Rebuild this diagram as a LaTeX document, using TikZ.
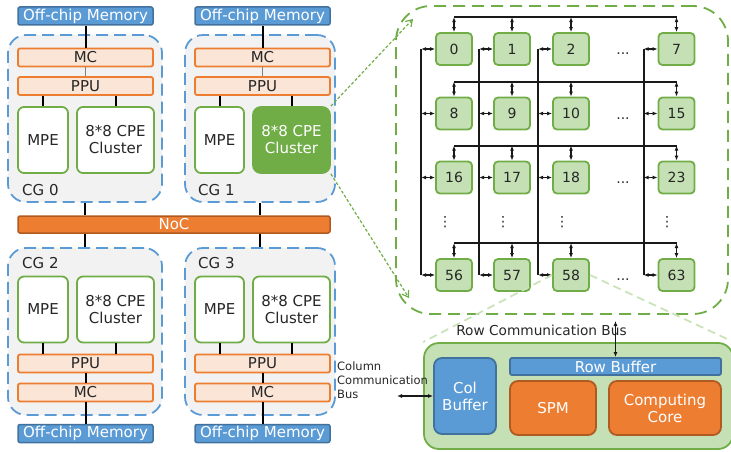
\documentclass[tikz,border=0pt]{standalone}
\usepackage{fontspec}
\setmainfont{DejaVu Sans}
\usetikzlibrary{arrows.meta}

\definecolor{txtgray}{HTML}{262626}
\definecolor{memblue}{HTML}{5B9BD5}
\definecolor{memline}{HTML}{41719C}
\definecolor{ctrlfill}{HTML}{FBE5D6}
\definecolor{ctrlline}{HTML}{ED7D31}
\definecolor{cggray}{HTML}{F2F2F2}
\definecolor{cgblue}{HTML}{5B9BD5}
\definecolor{leafgreen}{HTML}{70AD47}
\definecolor{pegreen}{HTML}{C5E0B4}
\definecolor{paleline}{HTML}{CBE3BB}
\definecolor{hotorange}{HTML}{ED7D31}
\definecolor{hotline}{HTML}{AE5A21}

\tikzset{
  mem/.style={draw=memline, fill=memblue, text=white, line width=1.5pt,
    rounded corners=2pt, minimum width=135pt, minimum height=18pt, inner sep=0pt},
  ctrl/.style={draw=ctrlline, fill=ctrlfill, line width=1.8pt,
    rounded corners=2pt, minimum width=135pt, minimum height=18pt, inner sep=0pt},
  core/.style={draw=leafgreen, fill=white, line width=1.8pt, rounded corners=6pt,
    minimum height=66pt, inner sep=0pt, align=center},
  hotcore/.style={core, fill=leafgreen, text=white, rounded corners=8pt},
  cgbox/.style={draw=cgblue, fill=cggray, line width=1.8pt, dash pattern=on 12pt off 6pt,
    rounded corners=18pt, minimum width=#1, minimum height=167pt, inner sep=0pt},
  noc/.style={draw=hotline, fill=hotorange, text=white, line width=1.5pt,
    rounded corners=2pt, minimum width=312pt, minimum height=17pt, inner sep=0pt},
  gridbox/.style={draw=leafgreen, line width=1.8pt, dash pattern=on 12pt off 7pt,
    rounded corners=35pt, minimum width=332pt, minimum height=308pt, inner sep=0pt},
  pe/.style={draw=leafgreen, fill=pegreen, line width=1.8pt, rounded corners=4pt,
    minimum width=36pt, minimum height=32pt, inner sep=0pt,
    font=\fontsize{14}{16}\selectfont},
  pebox/.style={draw=leafgreen, fill=pegreen, line width=1.8pt, rounded corners=15pt,
    minimum width=309pt, minimum height=106pt, inner sep=0pt},
  buf/.style={draw=memline, fill=memblue, text=white, line width=1.8pt,
    rounded corners=#1, inner sep=0pt, align=center},
  unit/.style={draw=hotline, fill=hotorange, text=white, line width=1.8pt,
    rounded corners=8pt, minimum width=#1, minimum height=54pt, inner sep=0pt, align=center},
  wire/.style={draw=black, line width=2pt},
  thinwire/.style={draw=gray, line width=1pt},
  bus/.style={draw=black!90, line width=2pt},
  link/.style={draw=black!90, line width=1.3pt, {Latex[length=5pt,width=4pt]}-{Latex[length=5pt,width=4pt]}},
  zoomarrow/.style={draw=leafgreen, line width=1.2pt, dash pattern=on 3pt off 2pt,
    -{Straight Barb[length=6pt,width=8pt]}},
  zoomline/.style={draw=paleline, line width=1.8pt, dash pattern=on 8pt off 5pt},
  dots/.style={inner sep=0pt, font=\fontsize{14}{16}\selectfont},
}

\begin{document}
\begin{tikzpicture}[x=1pt, y=-1pt, font=\fontsize{15}{17}\selectfont, text=txtgray]
\useasboundingbox (0,0) rectangle (731,452);

% Core group CG 0
\node[cgbox=154pt] (cg0) at (85,118.5) {};
\node[anchor=west, inner sep=0pt] (cg0name) at (22,190) {CG 0};
\node[mem] (mem0) at (85.5,16) {Off-chip Memory};
\node[ctrl] (mc0) at (85.5,57.5) {MC};
\node[ctrl] (ppu0) at (85.5,86) {PPU};
\node[core, minimum width=50pt] (mpe0) at (43,140) {MPE};
\node[core, minimum width=77pt] (cpe0) at (115.5,140) {8*8 CPE\\Cluster};
\draw[wire] (mem0) -- (mc0);
\draw[thinwire] (mc0) -- (ppu0);
\draw[wire] (mpe0.north) -- (mpe0.north |- ppu0.south);
\draw[wire] (cpe0.north) -- (cpe0.north |- ppu0.south);

% Core group CG 1, its CPE cluster is the one zoomed in
\node[cgbox=150pt] (cg1) at (260,118.5) {};
\node[anchor=west, inner sep=0pt] (cg1name) at (198,190) {CG 1};
\node[mem] (mem1) at (262.5,16) {Off-chip Memory};
\node[ctrl] (mc1) at (262.5,57.5) {MC};
\node[ctrl] (ppu1) at (262.5,86) {PPU};
\node[core, minimum width=49pt] (mpe1) at (219.5,140) {MPE};
\node[hotcore, minimum width=77pt] (cpe1) at (291.5,140) {8*8 CPE\\Cluster};
\draw[wire] (mem1) -- (mc1);
\draw[thinwire] (mc1) -- (ppu1);
\draw[wire] (mpe1.north) -- (mpe1.north |- ppu1.south);
\draw[wire] (cpe1.north) -- (cpe1.north |- ppu1.south);

% Network on chip
\node[noc] (noc) at (174,224.5) {NoC};

% Core group CG 2
\node[cgbox=154pt] (cg2) at (85,331.5) {};
\node[anchor=west, inner sep=0pt] (cg2name) at (22,263) {CG 2};
\node[core, minimum width=50pt] (mpe2) at (43,309.5) {MPE};
\node[core, minimum width=77pt] (cpe2) at (115.5,309.5) {8*8 CPE\\Cluster};
\node[ctrl] (ppu2) at (85.5,363.5) {PPU};
\node[ctrl] (mc2) at (85.5,392.5) {MC};
\node[mem] (mem2) at (85.5,433.5) {Off-chip Memory};
\draw[wire] (mpe2.south) -- (mpe2.south |- ppu2.north);
\draw[wire] (cpe2.south) -- (cpe2.south |- ppu2.north);
\draw[wire] (ppu2) -- (mc2);
\draw[wire] (mc2) -- (mem2);

% Core group CG 3
\node[cgbox=150pt] (cg3) at (260,331.5) {};
\node[anchor=west, inner sep=0pt] (cg3name) at (198,263) {CG 3};
\node[core, minimum width=49pt] (mpe3) at (219.5,309.5) {MPE};
\node[core, minimum width=77pt] (cpe3) at (291.5,309.5) {8*8 CPE\\Cluster};
\node[ctrl] (ppu3) at (262.5,363.5) {PPU};
\node[ctrl] (mc3) at (262.5,392.5) {MC};
\node[mem] (mem3) at (262.5,433.5) {Off-chip Memory};
\draw[wire] (mpe3.south) -- (mpe3.south |- ppu3.north);
\draw[wire] (cpe3.south) -- (cpe3.south |- ppu3.north);
\draw[wire] (ppu3) -- (mc3);
\draw[wire] (mc3) -- (mem3);

% Groups hooked onto the NoC
\draw[wire] (cg0.south) -- (cg0.south |- noc.north);
\draw[wire] (cg1.south) -- (cg1.south |- noc.north);
\draw[wire] (cg2.north) -- (cg2.north |- noc.south);
\draw[wire] (cg3.north) -- (cg3.north |- noc.south);

% CPE mesh
\node[gridbox] (grid) at (562,160) {};

\node[pe] (pe0) at (454,49) {0};
\node[pe] (pe1) at (512,49) {1};
\node[pe] (pe2) at (571,49) {2};
\node[pe] (pe7) at (676.5,49) {7};

\node[pe] (pe8) at (454,113.5) {8};
\node[pe] (pe9) at (512,113.5) {9};
\node[pe] (pe10) at (571,113.5) {10};
\node[pe] (pe15) at (676.5,113.5) {15};

\node[pe] (pe16) at (454,177.5) {16};
\node[pe] (pe17) at (512,177.5) {17};
\node[pe] (pe18) at (571,177.5) {18};
\node[pe] (pe23) at (676.5,177.5) {23};

\node[pe] (pe56) at (454,275) {56};
\node[pe] (pe57) at (512,275) {57};
\node[pe] (pe58) at (571,275) {58};
\node[pe] (pe63) at (676.5,275) {63};

% elided columns and rows
\node[dots] (hdots0) at (623,54) {...};
\node[dots] (hdots1) at (623,118.5) {...};
\node[dots] (hdots2) at (623,182.5) {...};
\node[dots] (hdots7) at (623,280) {...};
\node[dots] (vdots0) at (445,222) {⋮};
\node[dots] (vdots1) at (503,222) {⋮};
\node[dots] (vdots2) at (562,222) {⋮};
\node[dots] (vdots7) at (667,222) {⋮};

% Row buses
\draw[bus] ([yshift=15pt]pe0.north) -- ([yshift=15pt]pe7.north);
\draw[link] ([yshift=15pt]pe0.north) -- (pe0.north);
\draw[link] ([yshift=15pt]pe1.north) -- (pe1.north);
\draw[link] ([yshift=15pt]pe2.north) -- (pe2.north);
\draw[link] ([yshift=15pt]pe7.north) -- (pe7.north);

\draw[bus] ([yshift=15pt]pe8.north) -- ([yshift=15pt]pe15.north);
\draw[link] ([yshift=15pt]pe8.north) -- (pe8.north);
\draw[link] ([yshift=15pt]pe9.north) -- (pe9.north);
\draw[link] ([yshift=15pt]pe10.north) -- (pe10.north);
\draw[link] ([yshift=15pt]pe15.north) -- (pe15.north);

\draw[bus] ([yshift=15pt]pe16.north) -- ([yshift=15pt]pe23.north);
\draw[link] ([yshift=15pt]pe16.north) -- (pe16.north);
\draw[link] ([yshift=15pt]pe17.north) -- (pe17.north);
\draw[link] ([yshift=15pt]pe18.north) -- (pe18.north);
\draw[link] ([yshift=15pt]pe23.north) -- (pe23.north);

\draw[bus] ([yshift=15pt]pe56.north) -- ([yshift=15pt]pe63.north);
\draw[link] ([yshift=15pt]pe56.north) -- (pe56.north);
\draw[link] ([yshift=15pt]pe57.north) -- (pe57.north);
\draw[link] ([yshift=15pt]pe58.north) -- (pe58.north);
\draw[link] ([yshift=15pt]pe63.north) -- (pe63.north);

% Column buses
\draw[bus] ([xshift=-14pt]pe0.west) -- ([xshift=-14pt]pe56.west);
\draw[link] ([xshift=-14pt]pe0.west) -- (pe0.west);
\draw[link] ([xshift=-14pt]pe8.west) -- (pe8.west);
\draw[link] ([xshift=-14pt]pe16.west) -- (pe16.west);
\draw[link] ([xshift=-14pt]pe56.west) -- (pe56.west);

\draw[bus] ([xshift=-14pt]pe1.west) -- ([xshift=-14pt]pe57.west);
\draw[link] ([xshift=-14pt]pe1.west) -- (pe1.west);
\draw[link] ([xshift=-14pt]pe9.west) -- (pe9.west);
\draw[link] ([xshift=-14pt]pe17.west) -- (pe17.west);
\draw[link] ([xshift=-14pt]pe57.west) -- (pe57.west);

\draw[bus] ([xshift=-14pt]pe2.west) -- ([xshift=-14pt]pe58.west);
\draw[link] ([xshift=-14pt]pe2.west) -- (pe2.west);
\draw[link] ([xshift=-14pt]pe10.west) -- (pe10.west);
\draw[link] ([xshift=-14pt]pe18.west) -- (pe18.west);
\draw[link] ([xshift=-14pt]pe58.west) -- (pe58.west);

\draw[bus] ([xshift=-14pt]pe7.west) -- ([xshift=-14pt]pe63.west);
\draw[link] ([xshift=-14pt]pe7.west) -- (pe7.west);
\draw[link] ([xshift=-14pt]pe15.west) -- (pe15.west);
\draw[link] ([xshift=-14pt]pe23.west) -- (pe23.west);
\draw[link] ([xshift=-14pt]pe63.west) -- (pe63.west);

% Zoom from the CPE cluster to the mesh
\coordinate (zoomin) at (413,19);
\coordinate (zoomout) at (409,298);
\draw[zoomarrow] (cpe1.north east) -- (zoomin);
\draw[zoomarrow] (cpe1.south east) -- (zoomout);

% One CPE in detail
\node[pebox] (pebox) at (578.5,396) {};
\node[buf=8pt, minimum width=62pt, minimum height=76pt] (colbuf) at (465,396) {Col\\Buffer};
\node[buf=2pt, minimum width=211pt, minimum height=17pt] (rowbuf) at (615.5,366.5) {Row Buffer};
\node[unit=86pt] (spm) at (553,408) {SPM};
\node[unit=112pt] (core) at (665,408) {Computing\\Core};

\draw[zoomline] (pe58.west) -- (pebox.north west);
\draw[zoomline] (pe58.east) -- (pebox.north east);

% Bus labels and ports
\node[font=\fontsize{13.7}{16}\selectfont] (rowbus) at (541.5,330) {Row Communication Bus};
\node[anchor=west, align=left, inner sep=0pt, font=\fontsize{11.5}{14}\selectfont]
  (colbus) at (337,380) {Column\\Communication\\Bus};
\coordinate (rowtap) at (615.5,321);
\coordinate (coltap) at (397,396);
\draw[link, line width=1.3pt] (rowtap) -- (rowbuf.north);
\draw[link, line width=1.3pt] (coltap) -- (colbuf.west);

\end{tikzpicture}
\end{document}
